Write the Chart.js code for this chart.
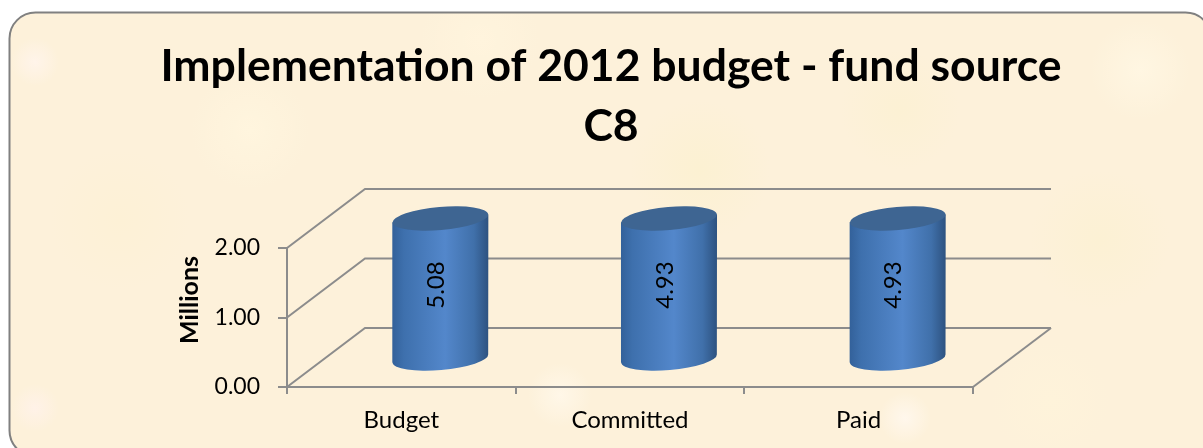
<!DOCTYPE html>
<html>
<head>
<meta charset="utf-8">
<title>Implementation of 2012 budget</title>
<style>
    html, body { margin: 0; padding: 0; background: #fff; }
    #wrap { position: relative; width: 1203px; height: 448px; overflow: hidden; }
</style>
<script src="https://cdn.jsdelivr.net/npm/chart.js@4"></script>
</head>
<body>
<div id="wrap"><canvas id="budget-chart" width="1203" height="448"></canvas></div>
<script>
const titleLines = ['Implementation of 2012 budget - fund source', 'C8'];
const categories = ['Budget', 'Committed', 'Paid'];
const seriesValues = [5.08, 4.93, 4.93];
const yLabel = 'Millions';
const yMax = 2;
const yStep = 1;

const FONT = 'Lato, "Open Sans", sans-serif';
const LINE = '#8c8c8c';
const depthX = 78;   // how far the back wall sits from the front axes
const depthY = -59;

// light patches of the parchment background
const patches = [
    [35, 62, 24, '#fff4ea'], [35, 408, 24, '#fff2e8'], [905, 418, 26, '#fff7ec'],
    [560, 395, 32, '#fff7e8'], [250, 130, 60, '#fff5de'], [700, 170, 70, '#fcf1d2'],
    [1100, 240, 70, '#fcf1d4'], [1140, 70, 50, '#fff6e2'], [120, 220, 70, '#fdf1d6'],
    [480, 40, 60, '#fff4dd'], [900, 110, 60, '#fcf1d4'], [1050, 400, 60, '#fef3da']
];

const panelPlugin = {
    id: 'panel',
    beforeDraw(chart) {
        const ctx = chart.ctx;
        ctx.save();
        ctx.beginPath();
        ctx.roundRect(9.5, 12.5, 1202, 444, 26);
        ctx.fillStyle = '#fdf1da';
        ctx.fill();
        ctx.clip();
        patches.forEach(([x, y, r, c]) => {
            const g = ctx.createRadialGradient(x, y, 0, x, y, r);
            g.addColorStop(0, c);
            g.addColorStop(1, c + '00');
            ctx.fillStyle = g;
            ctx.fillRect(x - r, y - r, r * 2, r * 2);
        });
        ctx.restore();
        ctx.save();
        ctx.beginPath();
        ctx.roundRect(9.5, 12.5, 1202, 444, 26);
        ctx.strokeStyle = '#808080';
        ctx.lineWidth = 2;
        ctx.stroke();
        ctx.restore();
    }
};

// 뒷벽 격자와 축 제목
const wallPlugin = {
    id: 'wall',
    beforeDatasetsDraw(chart) {
        const ctx = chart.ctx;
        const { left, right } = chart.chartArea;
        const yScale = chart.scales.y;
        ctx.save();
        ctx.strokeStyle = LINE;
        ctx.lineWidth = 2;
        yScale.ticks.forEach(t => {
            const y = yScale.getPixelForValue(t.value);
            ctx.beginPath();
            ctx.moveTo(left, y);
            ctx.lineTo(left + depthX, y + depthY);
            ctx.lineTo(right + depthX, y + depthY);
            ctx.stroke();
        });
        const y0 = yScale.getPixelForValue(0);
        ctx.beginPath();
        ctx.moveTo(right, y0);
        ctx.lineTo(right + depthX, y0 + depthY);
        ctx.stroke();

        ctx.translate(190, 300);
        ctx.rotate(-Math.PI / 2);
        ctx.font = 'bold 25px ' + FONT;
        ctx.fillStyle = '#000';
        ctx.textAlign = 'center';
        ctx.textBaseline = 'middle';
        ctx.fillText(yLabel, 0, 0);
        ctx.restore();
    }
};

// 막대를 원기둥으로 그리는 플러그인
const cylinderPlugin = {
    id: 'cylinder',
    afterDatasetsDraw(chart) {
        const ctx = chart.ctx;
        const yScale = chart.scales.y;
        const meta = chart.getDatasetMeta(0);
        meta.data.forEach((bar, i) => {
            const value = seriesValues[i];
            const cx = bar.x + depthX / 2;
            const rx = bar.width / 2;
            const topY = yScale.getPixelForValue(Math.min(value, yMax)) + depthY / 2;
            const baseY = yScale.getPixelForValue(0) + depthY / 2 + 1;
            const tilt = -0.085;
            const ry = 11.5;
            const lift = rx * Math.sin(tilt);

            const g = ctx.createLinearGradient(cx - rx, 0, cx + rx, 0);
            g.addColorStop(0, '#33619a');
            g.addColorStop(0.12, '#3e70ad');
            g.addColorStop(0.55, '#5387cb');
            g.addColorStop(0.85, '#4070aa');
            g.addColorStop(1, '#2d5280');

            ctx.save();
            ctx.beginPath();
            ctx.moveTo(cx - rx, topY - lift);
            ctx.lineTo(cx - rx, baseY - lift);
            ctx.ellipse(cx, baseY, rx, ry, tilt, Math.PI, 0, true);
            ctx.lineTo(cx + rx, topY + lift);
            ctx.closePath();
            ctx.fillStyle = g;
            ctx.fill();

            ctx.beginPath();
            ctx.ellipse(cx, topY, rx, ry, tilt, 0, Math.PI * 2);
            ctx.fillStyle = '#3e6592';
            ctx.fill();

            ctx.translate(cx - 4, 285);
            ctx.rotate(-Math.PI / 2);
            ctx.font = '24px ' + FONT;
            ctx.fillStyle = '#000';
            ctx.textAlign = 'center';
            ctx.textBaseline = 'middle';
            ctx.fillText(value.toFixed(2), 0, 0);
            ctx.restore();
        });
    }
};

const ctx = document.getElementById('budget-chart').getContext('2d');
const budgetChart = new Chart(ctx, {
    type: 'bar',
    data: {
        labels: categories,
        datasets: [{
            data: seriesValues,
            backgroundColor: 'rgba(0,0,0,0)',
            barPercentage: 0.42,
            categoryPercentage: 1
        }]
    },
    plugins: [panelPlugin, wallPlugin, cylinderPlugin],
    options: {
        responsive: false,
        animation: false,
        layout: { padding: { left: 19, right: 0, top: 0, bottom: 0 } },
        plugins: {
            legend: { display: false },
            tooltip: { enabled: false },
            title: {
                display: true,
                text: titleLines,
                color: '#000',
                font: { family: FONT, size: 44.5, weight: 'bold', lineHeight: 60.5 / 44.5 },
                padding: { top: 36, bottom: 91 }
            }
        },
        scales: {
            x: {
                grid: { drawOnChartArea: false, color: LINE, tickLength: 7, lineWidth: 2 },
                border: { color: LINE, width: 2 },
                ticks: { color: '#000', font: { family: FONT, size: 24 }, padding: 12, maxRotation: 0 },
                afterFit(scale) { scale.height = 61; }
            },
            y: {
                min: 0,
                max: yMax,
                grid: { drawOnChartArea: false, color: LINE, tickLength: 9, lineWidth: 2 },
                border: { color: LINE, width: 2 },
                ticks: {
                    stepSize: yStep,
                    color: '#000',
                    font: { family: FONT, size: 23 },
                    padding: 18,
                    callback: v => v.toFixed(2)
                },
                afterFit(scale) { scale.width = 268; }
            },
            // 오른쪽 여백용 빈 축
            spacer: {
                type: 'linear',
                position: 'right',
                grid: { display: false },
                border: { display: false },
                ticks: { display: false },
                afterFit(scale) { scale.width = 230; }
            }
        }
    }
});
</script>
</body>
</html>
